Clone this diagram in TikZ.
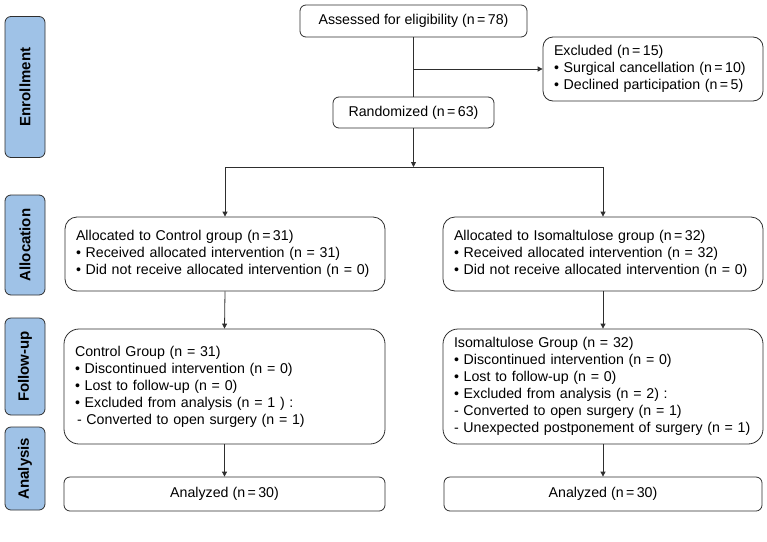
\documentclass[tikz,border=0pt]{standalone}
\usepackage{fontspec}
\setmainfont{Liberation Sans}
\usetikzlibrary{arrows.meta}
\definecolor{stagefill}{HTML}{9FC2E7}
\definecolor{edge}{HTML}{2E2E2E}
% narrow spacing around the equals sign in counts
\newcommand{\nEq}{\hspace{0.17em}=\hspace{0.17em}}
\begin{document}
\begin{tikzpicture}[x=1pt,y=-1pt,
  txt/.style={font=\fontsize{14.2}{17}\selectfont},
  box/.style={draw=edge,line width=0.8pt,fill=white,txt,inner sep=0pt,rounded corners=6pt},
  listbox/.style={box,align=left,inner xsep=11pt},
  stage/.style={draw=edge,line width=0.8pt,fill=stagefill,rounded corners=6pt,rotate=90,
    minimum height=40pt,inner sep=0pt,font=\fontsize{15}{17}\selectfont\bfseries},
  arr/.style={draw=edge,line width=0.8pt,-{Triangle[length=5pt,width=5pt]}},
  ln/.style={draw=edge,line width=0.8pt}]
\useasboundingbox (0,0) rectangle (767,541);

% stage labels on the left
\node[stage,minimum width=141pt] (sEnr) at (25,87) {Enrollment};
\node[stage,minimum width=100pt] (sAll) at (25,245) {Allocation};
\node[stage,minimum width=97pt]  (sFol) at (25,366.5) {Follow-up};
\node[stage,minimum width=83pt]  (sAna) at (25,468.5) {Analysis};

% enrollment
\node[box,minimum width=227pt,minimum height=32pt] (assess) at (413.5,21)
  {Assessed for eligibility (n\nEq 78)};
\node[listbox,rounded corners=10pt,minimum height=64pt,text width=198pt] (excl) at (653,69)
  {Excluded (n\nEq 15)\\
   \textbullet{} Surgical cancellation (n\nEq 10)\\
   \textbullet{} Declined participation (n\nEq 5)};
\node[box,minimum width=161pt,minimum height=31pt] (rand) at (413.5,112.5)
  {Randomized (n\nEq 63)};

% allocation
\node[listbox,rounded corners=12pt,minimum height=74pt,text width=298pt] (allocL) at (225,254)
  {Allocated to Control group (n\nEq 31)\\
   \textbullet{} Received allocated intervention (n = 31)\\
   \textbullet{} Did not receive allocated intervention (n = 0)};
\node[listbox,rounded corners=12pt,minimum height=74pt,text width=298pt] (allocR) at (603,254)
  {Allocated to Isomaltulose group (n\nEq 32)\\
   \textbullet{} Received allocated intervention (n = 32)\\
   \textbullet{} Did not receive allocated intervention (n = 0)};

% follow-up
\node[listbox,rounded corners=15pt,minimum height=115pt,text width=299pt] (fuL) at (224.5,386.5)
  {Control Group (n = 31)\\
   \textbullet{} Discontinued intervention (n = 0)\\
   \textbullet{} Lost to follow-up (n = 0)\\
   \textbullet{} Excluded from analysis (n = 1 ) :\\
   \hspace{2pt}- Converted to open surgery (n = 1)};
\node[listbox,rounded corners=15pt,minimum height=115pt,text width=298pt] (fuR) at (603,386.5)
  {Isomaltulose Group (n = 32)\\
   \textbullet{} Discontinued intervention (n = 0)\\
   \textbullet{} Lost to follow-up (n = 0)\\
   \textbullet{} Excluded from analysis (n = 2) :\\
   - Converted to open surgery (n = 1)\\
   - Unexpected postponement of surgery (n = 1)};

% analysis
\node[box,minimum width=321pt,minimum height=34pt] (anL) at (224.5,494)
  {Analyzed (n\nEq 30)};
\node[box,minimum width=318pt,minimum height=34pt] (anR) at (603,494)
  {Analyzed (n\nEq 30)};

% connectors
\coordinate (split) at (413.5,167);
\draw[ln] (assess.south) -- (rand.north);
\draw[arr] (assess.south |- excl.west) -- (excl.west);
\draw[arr] (rand.south) -- (split);
\draw[ln] (allocL.north |- split) -- (allocR.north |- split);
\draw[arr] (allocL.north |- split) -- (allocL.north);
\draw[arr] (allocR.north |- split) -- (allocR.north);
\draw[arr] (allocL.south) -- (fuL.north);
\draw[arr] (allocR.south) -- (fuR.north);
\draw[arr] (fuL.south) -- (anL.north);
\draw[arr] (fuR.south) -- (anR.north);
\end{tikzpicture}
\end{document}
